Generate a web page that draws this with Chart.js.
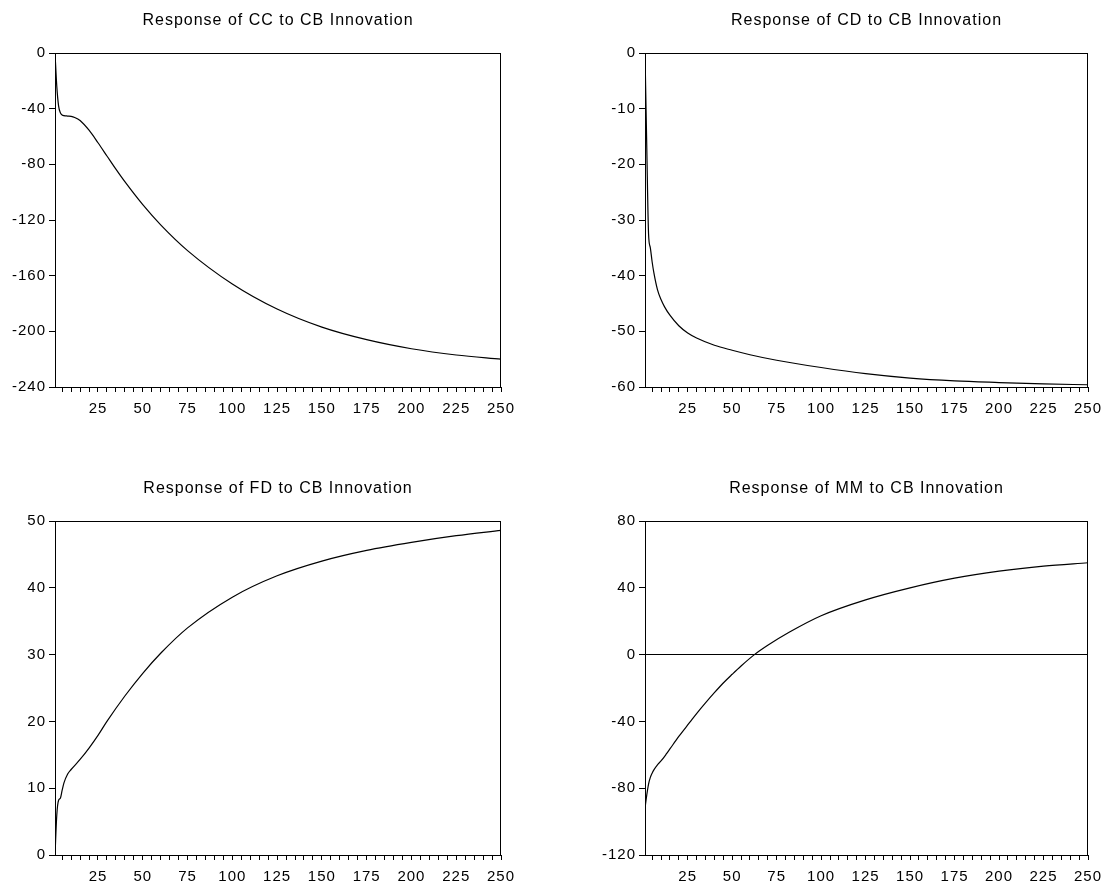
<!DOCTYPE html>
<html><head><meta charset="utf-8">
<script src="https://cdn.jsdelivr.net/npm/chart.js@4/dist/chart.umd.min.js"></script>
<style>
html,body{margin:0;padding:0;background:#fff;}
body{width:1106px;height:886px;position:relative;overflow:hidden;}
canvas{position:absolute;display:block;}
</style></head><body>
<canvas id="c1" width="553" height="443" style="left:0;top:0"></canvas>
<canvas id="c2" width="516" height="443" style="left:590px;top:0"></canvas>
<canvas id="c3" width="553" height="418" style="left:0;top:468px"></canvas>
<canvas id="c4" width="516" height="418" style="left:590px;top:468px"></canvas>
<script>
// ---- data ----
const titles = ["Response of CC to CB Innovation","Response of CD to CB Innovation","Response of FD to CB Innovation","Response of MM to CB Innovation"];
const xTickLabels = [25,50,75,100,125,150,175,200,225,250];
const xMinorStep = 5;
const ccPeriods = [1,2,3,4,5,6,8,10,12,15,20,25,30,35,40,50,60,75,100,125,150,175,200,225,250];
const ccValues  = [0,-24,-38,-43,-44.5,-45,-45.3,-45.5,-46.3,-48.5,-55.5,-64.5,-74,-83.5,-92.5,-109,-123.5,-142,-166,-184,-197,-206,-212.5,-217,-220];
const cdPeriods = [1,2,3,4,5,6,8,10,12,15,20,25,30,40,50,60,75,100,125,150,175,200,225,250];
const cdValues  = [0,-17,-32.5,-35,-37.5,-39.5,-42.5,-44.3,-45.6,-47.1,-49,-50.3,-51.2,-52.5,-53.4,-54.2,-55.2,-56.5,-57.6,-58.4,-58.9,-59.2,-59.45,-59.6];
const fdPeriods = [1,2,3,4,5,6,8,10,15,20,25,30,40,50,60,75,100,125,150,175,200,225,250];
const fdValues  = [0,6,8.2,8.5,9.7,10.8,12.1,12.8,14.3,16,17.9,20,23.8,27.2,30.2,34,38.6,41.8,44,45.6,46.8,47.8,48.6];
const mmPeriods = [1,2,3,4,5,6,8,10,13,15,20,26,30,35,40,45,50,55,62.5,70,82,100,125,150,175,200,225,250];
const mmValues  = [-92,-84,-77.5,-73.5,-71,-69,-66,-63.7,-59.5,-56.5,-49,-40.8,-35.3,-28.9,-22.8,-17,-11.8,-6.8,0,5.6,13.4,23.3,32.8,40,45.8,50,53,55];
const yRanges = [[-240,0,40],[-60,0,10],[0,50,10],[-120,80,40]];

// ---- rendering ----
const FONT = "'Liberation Sans', Arial, sans-serif";
const LS = '1px';
const spacingPlugin = {
  id:'spacing',
  beforeUpdate(c){ c.ctx.letterSpacing = LS; },
  beforeLayout(c){ c.ctx.letterSpacing = LS; },
  beforeDraw(c){ c.ctx.letterSpacing = LS; }
};
const framePlugin = {
  id:'frame',
  afterDraw(c){
    const a = c.chartArea, ctx = c.ctx;
    ctx.save();
    ctx.strokeStyle = '#000'; ctx.lineWidth = 1;
    ctx.strokeRect(Math.round(a.left)+0.5, Math.round(a.top)+0.5, Math.round(a.right-a.left)-1, Math.round(a.bottom-a.top));
    ctx.restore();
  }
};

function makeChart(id, title, periods, values, yr, rightPad, zeroLine){
  const canvas = document.getElementById(id);
  const H = canvas.height;
  const minorTicks = [];
  for (let v = xMinorStep; v <= 250; v += xMinorStep) minorTicks.push(v);
  return new Chart(canvas, {
    type:'line',
    data:{ datasets:[{
      data: periods.map((t,i)=>({x:t,y:values[i]})),
      borderColor:'#000', borderWidth:1.2, pointRadius:0, fill:false,
      cubicInterpolationMode:'monotone'
    }]},
    options:{
      responsive:false, animation:false, devicePixelRatio:1,
      layout:{ padding:{left:0,right:rightPad,top:0,bottom:0} },
      plugins:{
        legend:{display:false}, tooltip:{enabled:false},
        title:{ display:true, text:title, fullSize:false, color:'#000',
          font:{family:FONT,size:16,weight:'normal',lineHeight:1.2},
          padding:{top:11,bottom:22.8} }
      },
      scales:{
        x:{ type:'linear', min:1, max:250,
          border:{display:false},
          grid:{ color:'rgba(0,0,0,0)', tickColor:'#000', tickLength:5, lineWidth:1, drawOnChartArea:false },
          afterBuildTicks(s){ s.ticks = minorTicks.map(v=>({value:v})); },
          afterFit(s){ s.height = H - 387; s.paddingLeft = 0; s.paddingRight = 0; },
          ticks:{ autoSkip:false, maxRotation:0, minRotation:0, padding:8, color:'#000',
            font:{family:FONT,size:15},
            callback:(v)=> xTickLabels.includes(v) ? String(v) : '' }
        },
        y:{ type:'linear', min:yr[0], max:yr[1],
          border:{display:false},
          grid:{ color:(c)=> (zeroLine && c.tick && c.tick.value===0) ? '#000' : 'rgba(0,0,0,0)',
            tickColor:'#000', tickLength:6, lineWidth:1 },
          afterFit(s){ s.width = 55; s.paddingTop = 0; s.paddingBottom = 0; },
          ticks:{ stepSize:yr[2], autoSkip:false, padding:3, color:'#000',
            font:{family:FONT,size:15} }
        }
      }
    },
    plugins:[spacingPlugin, framePlugin]
  });
}
makeChart('c1', titles[0], ccPeriods, ccValues, yRanges[0], 52, false);
makeChart('c2', titles[1], cdPeriods, cdValues, yRanges[1], 18, false);
makeChart('c3', titles[2], fdPeriods, fdValues, yRanges[2], 52, false);
makeChart('c4', titles[3], mmPeriods, mmValues, yRanges[3], 18, true);
</script>
</body></html>
